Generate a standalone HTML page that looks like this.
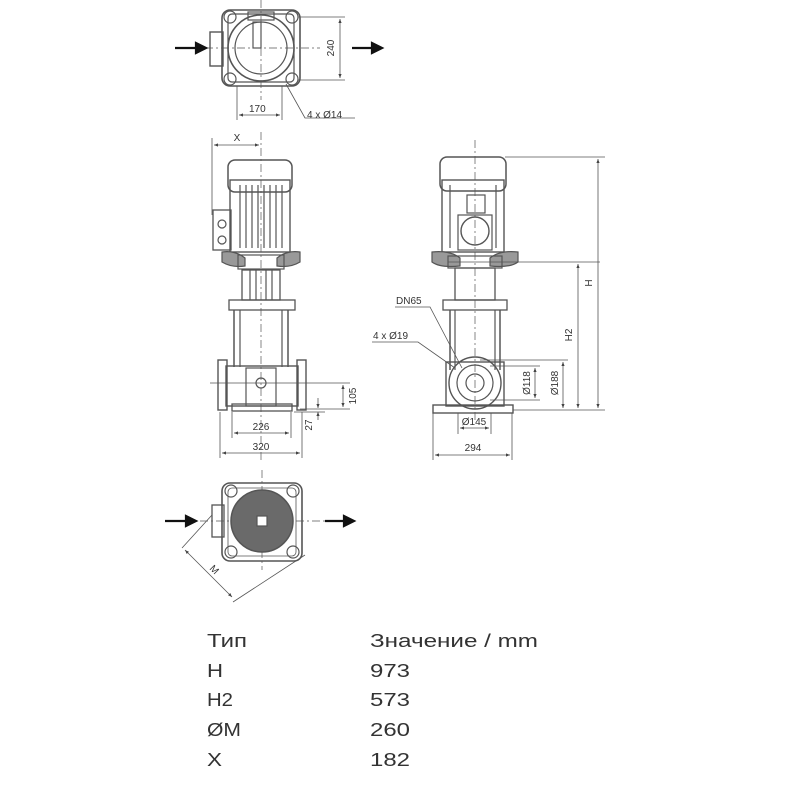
<!DOCTYPE html>
<html><head><meta charset="utf-8"><style>
body{margin:0;background:#fff;width:800px;height:800px;overflow:hidden}
svg{display:block}
.t{font-family:"Liberation Sans","DejaVu Sans",sans-serif;fill:#333}
</style></head><body>
<svg width="800" height="800" viewBox="0 0 800 800" xmlns="http://www.w3.org/2000/svg">
<defs>
<marker id="a" viewBox="0 0 10 10" refX="10" refY="5" markerWidth="5" markerHeight="5" orient="auto-start-reverse"><path d="M0,1 L10,5 L0,9 z" fill="#444"/></marker>
</defs>
<g stroke="#555" stroke-width="1.2" fill="none">
<!-- TOP VIEW -->
<line x1="261" y1="0" x2="261" y2="100" stroke-dasharray="8,3,2,3" stroke-width="0.7"/>
<line x1="205" y1="48" x2="320" y2="48" stroke-dasharray="8,3,2,3" stroke-width="0.7"/>
<rect x="222" y="10" width="78" height="76" rx="8" stroke-width="1.6"/>
<rect x="210" y="32" width="13" height="34" stroke-width="1.4"/>
<rect x="228" y="14" width="66" height="68" rx="4"/>
<circle cx="261" cy="48" r="33" stroke-width="1.6"/>
<circle cx="261" cy="48" r="26"/>
<circle cx="230" cy="17" r="6"/><circle cx="292" cy="17" r="6"/><circle cx="230" cy="79" r="6"/><circle cx="292" cy="79" r="6"/>
<rect x="248" y="12" width="26" height="8"/>
<rect x="253" y="22" width="8" height="26"/>
<line x1="237" y1="86" x2="237" y2="120" stroke-width="0.8"/>
<line x1="282" y1="86" x2="282" y2="120" stroke-width="0.8"/>
<line x1="239" y1="115" x2="280" y2="115" stroke-width="0.8" marker-start="url(#a)" marker-end="url(#a)"/>
<line x1="298" y1="17" x2="345" y2="17" stroke-width="0.8"/>
<line x1="298" y1="80" x2="345" y2="80" stroke-width="0.8"/>
<line x1="340" y1="19" x2="340" y2="78" stroke-width="0.8" marker-start="url(#a)" marker-end="url(#a)"/>
<polyline points="286,84 305,118 355,118" stroke-width="0.8"/>
<!-- FRONT VIEW -->
<line x1="261" y1="132" x2="261" y2="460" stroke-dasharray="8,3,2,3" stroke-width="0.7"/>
<line x1="212" y1="138" x2="212" y2="215" stroke-width="0.8"/>
<line x1="214" y1="145" x2="259" y2="145" stroke-width="0.8" marker-start="url(#a)" marker-end="url(#a)"/>
<rect x="228" y="160" width="64" height="32" rx="7" stroke-width="1.5"/>
<rect x="230" y="180" width="60" height="72" stroke-width="1.4"/>
<line x1="240" y1="185" x2="240" y2="248"/><line x1="246" y1="185" x2="246" y2="248"/>
<line x1="252" y1="185" x2="252" y2="248"/><line x1="258" y1="185" x2="258" y2="248"/>
<line x1="264" y1="185" x2="264" y2="248"/><line x1="270" y1="185" x2="270" y2="248"/>
<line x1="276" y1="185" x2="276" y2="248"/><line x1="282" y1="185" x2="282" y2="248"/>
<rect x="213" y="210" width="18" height="40" stroke-width="1.3"/>
<circle cx="222" cy="224" r="4"/><circle cx="222" cy="240" r="4"/>
<path d="M222,252 Q235,250 245,258 L245,266 Q232,268 222,262 Z" fill="#999"/>
<path d="M300,252 Q287,250 277,258 L277,266 Q290,268 300,262 Z" fill="#999"/>
<rect x="238" y="255" width="46" height="14"/>
<rect x="242" y="270" width="38" height="30" stroke-width="1.3"/>
<line x1="250" y1="270" x2="250" y2="300"/><line x1="256" y1="270" x2="256" y2="300"/><line x1="266" y1="270" x2="266" y2="300"/><line x1="272" y1="270" x2="272" y2="300"/>
<rect x="229" y="300" width="66" height="10" stroke-width="1.3"/>
<line x1="234" y1="310" x2="234" y2="367" stroke-width="1.5"/><line x1="240" y1="310" x2="240" y2="367"/>
<line x1="288" y1="310" x2="288" y2="367" stroke-width="1.5"/><line x1="282" y1="310" x2="282" y2="367"/>
<rect x="226" y="366" width="72" height="40" stroke-width="1.4"/>
<rect x="218" y="360" width="9" height="50" stroke-width="1.4"/>
<rect x="297" y="360" width="9" height="50" stroke-width="1.4"/>
<rect x="246" y="368" width="30" height="38"/>
<circle cx="261" cy="383" r="5"/>
<rect x="232" y="404" width="60" height="7" stroke-width="1.3"/>
<line x1="210" y1="383" x2="350" y2="383" stroke-width="0.8"/>
<line x1="300" y1="409" x2="350" y2="409" stroke-width="0.8"/>
<line x1="343" y1="385" x2="343" y2="407" stroke-width="0.8" marker-start="url(#a)" marker-end="url(#a)"/>
<line x1="318" y1="398" x2="318" y2="408" stroke-width="0.8" marker-end="url(#a)"/>
<line x1="318" y1="420" x2="318" y2="412" stroke-width="0.8" marker-end="url(#a)"/>
<line x1="294" y1="412" x2="325" y2="412" stroke-width="0.8"/>
<line x1="232" y1="412" x2="232" y2="438" stroke-width="0.8"/>
<line x1="291" y1="412" x2="291" y2="438" stroke-width="0.8"/>
<line x1="220" y1="412" x2="220" y2="458" stroke-width="0.8"/>
<line x1="302" y1="412" x2="302" y2="458" stroke-width="0.8"/>
<line x1="234" y1="433" x2="289" y2="433" stroke-width="0.8" marker-start="url(#a)" marker-end="url(#a)"/>
<line x1="222" y1="453" x2="300" y2="453" stroke-width="0.8" marker-start="url(#a)" marker-end="url(#a)"/>
<!-- SIDE VIEW -->
<line x1="475" y1="140" x2="475" y2="420" stroke-dasharray="8,3,2,3" stroke-width="0.7"/>
<rect x="440" y="157" width="66" height="34" rx="7" stroke-width="1.5"/>
<rect x="442" y="180" width="62" height="72" stroke-width="1.4"/>
<line x1="450" y1="185" x2="450" y2="248"/><line x1="496" y1="185" x2="496" y2="248"/>
<rect x="467" y="195" width="18" height="18"/>
<rect x="458" y="215" width="34" height="35"/>
<circle cx="475" cy="231" r="14" stroke-width="1.4"/>
<path d="M432,252 Q450,250 460,258 L460,266 Q440,268 432,262 Z" fill="#999"/>
<path d="M518,252 Q500,250 490,258 L490,266 Q510,268 518,262 Z" fill="#999"/>
<rect x="448" y="256" width="54" height="12"/>
<rect x="455" y="268" width="40" height="32" stroke-width="1.3"/>
<rect x="443" y="300" width="64" height="10" stroke-width="1.3"/>
<line x1="450" y1="310" x2="450" y2="370" stroke-width="1.5"/><line x1="455" y1="310" x2="455" y2="370"/>
<line x1="500" y1="310" x2="500" y2="370" stroke-width="1.5"/><line x1="495" y1="310" x2="495" y2="370"/>
<rect x="446" y="362" width="58" height="44" stroke-width="1.4"/>
<circle cx="475" cy="383" r="26" stroke-width="1.4"/>
<circle cx="475" cy="383" r="18"/>
<circle cx="475" cy="383" r="9"/>
<rect x="433" y="405" width="80" height="8" stroke-width="1.4"/>
<line x1="448" y1="262" x2="600" y2="262" stroke-width="0.8"/>
<line x1="505" y1="157" x2="605" y2="157" stroke-width="0.8"/>
<line x1="513" y1="410" x2="605" y2="410" stroke-width="0.8"/>
<line x1="598" y1="159" x2="598" y2="408" stroke-width="0.8" marker-start="url(#a)" marker-end="url(#a)"/>
<line x1="578" y1="264" x2="578" y2="408" stroke-width="0.8" marker-start="url(#a)" marker-end="url(#a)"/>
<line x1="480" y1="360" x2="568" y2="360" stroke-width="0.8"/>
<line x1="490" y1="366" x2="540" y2="366" stroke-width="0.8"/>
<line x1="490" y1="400" x2="540" y2="400" stroke-width="0.8"/>
<line x1="535" y1="368" x2="535" y2="398" stroke-width="0.8" marker-start="url(#a)" marker-end="url(#a)"/>
<line x1="563" y1="362" x2="563" y2="408" stroke-width="0.8" marker-start="url(#a)" marker-end="url(#a)"/>
<line x1="458" y1="413" x2="458" y2="434" stroke-width="0.8"/>
<line x1="491" y1="413" x2="491" y2="434" stroke-width="0.8"/>
<line x1="433" y1="413" x2="433" y2="460" stroke-width="0.8"/>
<line x1="512" y1="413" x2="512" y2="460" stroke-width="0.8"/>
<line x1="460" y1="428" x2="489" y2="428" stroke-width="0.8" marker-start="url(#a)" marker-end="url(#a)"/>
<line x1="435" y1="455" x2="510" y2="455" stroke-width="0.8" marker-start="url(#a)" marker-end="url(#a)"/>
<polyline points="395,307 430,307 462,368" stroke-width="0.8"/>
<polyline points="372,342 418,342 455,368" stroke-width="0.8"/>
<!-- BOTTOM VIEW -->
<line x1="262" y1="470" x2="262" y2="570" stroke-dasharray="8,3,2,3" stroke-width="0.7"/>
<line x1="200" y1="521" x2="325" y2="521" stroke-dasharray="8,3,2,3" stroke-width="0.7"/>
<rect x="222" y="483" width="80" height="78" rx="8" stroke-width="1.6"/>
<rect x="228" y="488" width="68" height="68" rx="4" stroke-width="0.8"/>
<rect x="212" y="505" width="12" height="32" stroke-width="1.3"/>
<circle cx="231" cy="491" r="6"/><circle cx="293" cy="491" r="6"/><circle cx="231" cy="552" r="6"/><circle cx="293" cy="552" r="6"/>
<circle cx="262" cy="521" r="31" fill="#6a6a6a" stroke-width="1.5"/>
<rect x="257" y="516" width="10" height="10" fill="#fff"/>
<line x1="212" y1="515" x2="182" y2="548" stroke-width="0.8"/>
<line x1="305" y1="555" x2="233" y2="602" stroke-width="0.8"/>
<line x1="185" y1="550" x2="232" y2="597" stroke-width="0.8" marker-start="url(#a)" marker-end="url(#a)"/>
</g>
<!-- big arrows -->
<g stroke="#111" stroke-width="2.2" fill="#111">
<line x1="175" y1="48" x2="198" y2="48"/><path d="M206,48 L196,43 L196,53 Z"/>
<line x1="352" y1="48" x2="374" y2="48"/><path d="M382,48 L372,43 L372,53 Z"/>
<line x1="165" y1="521" x2="188" y2="521"/><path d="M196,521 L186,516 L186,526 Z"/>
<line x1="325" y1="521" x2="346" y2="521"/><path d="M354,521 L344,516 L344,526 Z"/>
</g>
<g class="t" font-size="10">
<text x="249" y="112">170</text>
<text x="307" y="118">4 x Ø14</text>
<text x="334" y="48" transform="rotate(-90 334 48)" text-anchor="middle">240</text>
<text x="237" y="141" text-anchor="middle">X</text>
<text x="347" y="396" transform="rotate(-90 347 396)" text-anchor="middle" dy="9">105</text>
<text x="312" y="425" transform="rotate(-90 312 425)" text-anchor="middle" dy="0">27</text>
<text x="261" y="430" text-anchor="middle">226</text>
<text x="261" y="450" text-anchor="middle">320</text>
<text x="396" y="304">DN65</text>
<text x="373" y="339">4 x Ø19</text>
<text x="592" y="283" transform="rotate(-90 592 283)" text-anchor="middle">H</text>
<text x="572" y="335" transform="rotate(-90 572 335)" text-anchor="middle">H2</text>
<text x="530" y="383" transform="rotate(-90 530 383)" text-anchor="middle">Ø118</text>
<text x="558" y="383" transform="rotate(-90 558 383)" text-anchor="middle">Ø188</text>
<text x="474" y="425" text-anchor="middle">Ø145</text>
<text x="473" y="451" text-anchor="middle">294</text>
<text x="212" y="572" transform="rotate(45 212 572)" text-anchor="middle">M</text>
</g>
<g class="t" font-size="18" lengthAdjust="spacingAndGlyphs">
<text x="207" y="647" textLength="40" lengthAdjust="spacingAndGlyphs">Тип</text><text x="370" y="647" textLength="168" lengthAdjust="spacingAndGlyphs">Значение / mm</text>
<text x="207" y="677" textLength="16" lengthAdjust="spacingAndGlyphs">H</text><text x="370" y="677" textLength="40" lengthAdjust="spacingAndGlyphs">973</text>
<text x="207" y="706" textLength="26" lengthAdjust="spacingAndGlyphs">H2</text><text x="370" y="706" textLength="40" lengthAdjust="spacingAndGlyphs">573</text>
<text x="207" y="736" textLength="34" lengthAdjust="spacingAndGlyphs">ØM</text><text x="370" y="736" textLength="40" lengthAdjust="spacingAndGlyphs">260</text>
<text x="207" y="766" textLength="15" lengthAdjust="spacingAndGlyphs">X</text><text x="370" y="766" textLength="40" lengthAdjust="spacingAndGlyphs">182</text>
</g>
</svg>
</body></html>
